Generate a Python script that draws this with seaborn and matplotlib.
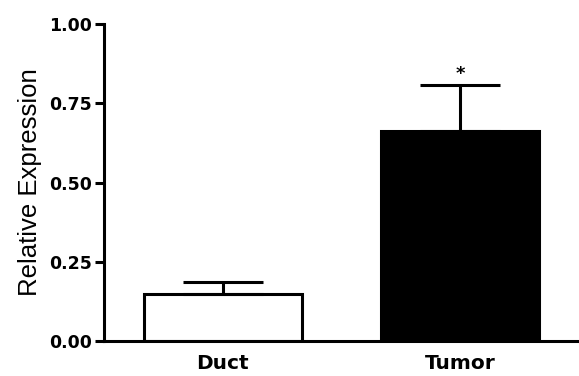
import numpy as np
import pandas as pd
import seaborn as sns
import matplotlib.pyplot as plt

# values
groups = ['Duct', 'Tumor']
means = [0.148, 0.662]
sem = [0.038, 0.146]
colors = ['white', 'black']

data = pd.DataFrame({'group': groups, 'expr': means})

sns.set_style('ticks', {'axes.edgecolor': 'black', 'text.color': 'black',
                        'xtick.color': 'black', 'ytick.color': 'black',
                        'axes.labelcolor': 'black'})
plt.rcParams['font.family'] = ['DejaVu Sans']

fig = plt.figure(figsize=(5.79, 3.76), dpi=100)
ax = fig.add_axes([0.1796, 0.093, 0.8204, 0.843])

sns.barplot(data=data, x='group', y='expr', hue='group', palette=colors,
            width=0.667, edgecolor='black', linewidth=2.2, legend=False,
            errorbar=None, ax=ax)

# upper error bars only
ax.errorbar(np.arange(len(groups)), means, yerr=[[0] * len(sem), sem],
            fmt='none', ecolor='black', elinewidth=2.2, capsize=29,
            capthick=2.2, zorder=1)

ax.text(1, means[1] + sem[1] + 0.005, '*', ha='center', va='bottom',
        fontsize=13, fontweight='bold')

ax.set_xlim(-0.5, 1.5)
ax.set_ylim(0, 1.0)
ax.set_yticks([0, 0.25, 0.5, 0.75, 1.0])
ax.set_yticklabels(['0.00', '0.25', '0.50', '0.75', '1.00'],
                   fontweight='bold', fontsize=12.5)
ax.set_xticklabels(groups, fontweight='bold', fontsize=14.5)
ax.set_xlabel('')
ax.set_ylabel('Relative Expression', fontsize=18.5, labelpad=5,
              family='Liberation Sans')

ax.tick_params(axis='y', length=6.5, width=2.2, pad=2)
ax.tick_params(axis='x', length=0, pad=9)
for s in ['left', 'bottom']:
    ax.spines[s].set_linewidth(2.2)
sns.despine(ax=ax)
ax.spines['bottom'].set_clip_on(False)

fig.savefig('out.png', dpi=100)
